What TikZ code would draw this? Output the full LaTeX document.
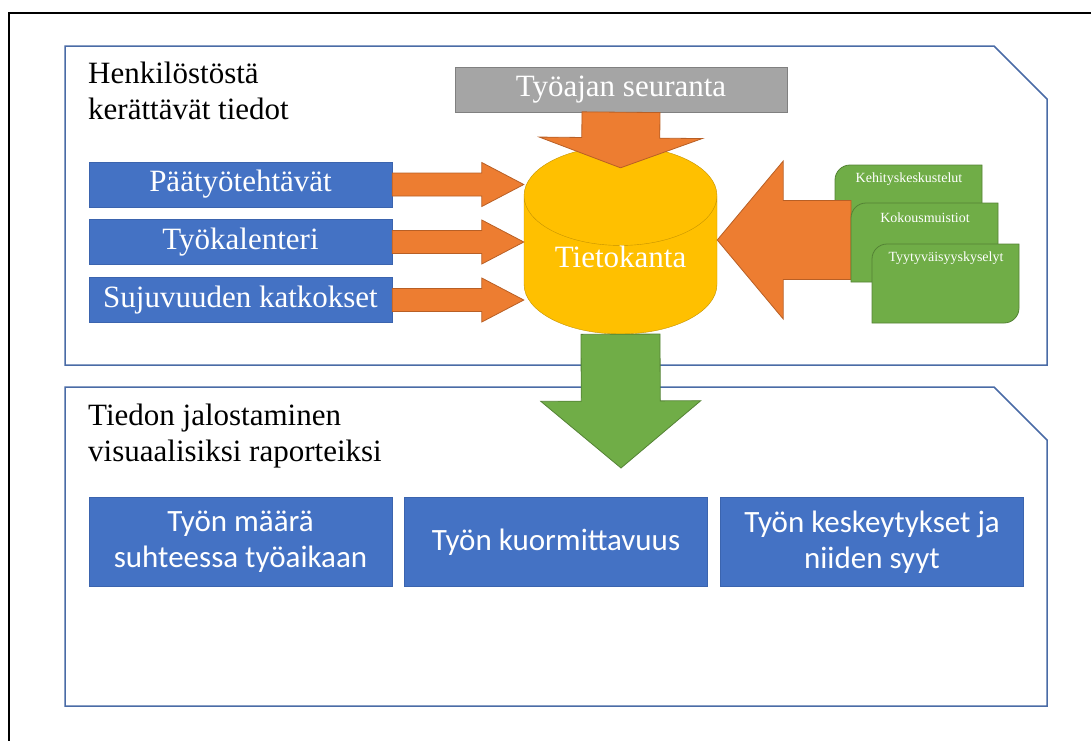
\documentclass[tikz,border=0pt]{standalone}
\usepackage{fontspec}
\setmainfont{Liberation Serif}
\newfontfamily\calibrifont{Carlito}
\usetikzlibrary{shapes.geometric, calc, positioning}

\definecolor{boxblue}{HTML}{4472C4}
\definecolor{boxedge}{HTML}{3B64AE}
\definecolor{panelblue}{HTML}{4A6BA6}
\definecolor{arroworange}{HTML}{ED7D31}
\definecolor{orangeedge}{HTML}{B85F25}
\definecolor{dbyellow}{HTML}{FFC000}
\definecolor{dbedge}{HTML}{C59300}
\definecolor{cardgreen}{HTML}{70AD47}
\definecolor{greenedge}{HTML}{548235}
\definecolor{timegray}{HTML}{A5A5A5}
\definecolor{grayedge}{HTML}{808080}

% block arrow: style, from, to, half shaft, half head, head length
\newcommand{\blockarrow}[6]{%
  \coordinate (ahbase) at ($(#3)!#6pt!(#2)$);
  \draw[#1] ($(#2)!#4pt!90:(#3)$) -- ($(ahbase)!#4pt!90:(#3)$) -- ($(ahbase)!#5pt!90:(#3)$) -- (#3)
    -- ($(ahbase)!#5pt!-90:(#3)$) -- ($(ahbase)!#4pt!-90:(#3)$) -- ($(#2)!#4pt!-90:(#3)$) -- cycle;}

\begin{document}
\begin{tikzpicture}[x=1pt, y=-1pt,
        panel/.style={draw=panelblue, line width=1.5pt},
        title/.style={anchor=north west, align=left, inner sep=0pt, font=\fontsize{31}{36}\selectfont},
        source/.style={rectangle, draw=boxedge, fill=boxblue, text=white, minimum width=303pt, minimum height=45pt, font=\fontsize{31}{36}\selectfont},
        report/.style={rectangle, draw=boxedge, fill=boxblue, text=white, minimum width=303pt, minimum height=89pt, align=center, font=\calibrifont\fontsize{31}{36}\selectfont},
        card/.style={fill=cardgreen, draw=greenedge, line width=0.8pt},
        cardtext/.style={text=white, inner sep=0pt, font=\fontsize{14}{16}\selectfont},
        orangearrow/.style={fill=arroworange, draw=orangeedge, line width=0.8pt},
        greenarrow/.style={fill=cardgreen, draw=greenedge, line width=0.8pt}
    ]
        \useasboundingbox (0,0) rectangle (1091,740);
        \draw[line width=1.5pt] (9,760) -- (9,13) -- (1110,13);

        % Panels
        \draw[panel] (65,46) -- (994,46) -- (1047,99) -- (1047,365) -- (65,365) -- cycle;
        \draw[panel] (65,387) -- (994,387) -- (1047,440) -- (1047,706) -- (65,706) -- cycle;
        \node[title] (collect) at (88,62) {Henkilöstöstä\\kerättävät tiedot};
        \node[title] (refine) at (88,404) {Tiedon jalostaminen\\visuaalisiksi raporteiksi};

        % Sources
        \node[source] (tasks) at (240.5,184.5) {Päätyötehtävät};
        \node[source] (calendar) at (240.5,242) {Työkalenteri};
        \node[source] (breaks) at (240.5,300) {Sujuvuuden katkokset};
        \node[source, minimum width=332pt, fill=timegray, draw=grayedge] (time) at (621,89.5) {Työajan seuranta};

        \node[cylinder, shape border rotate=90, aspect=0.72, draw=dbedge, fill=dbyellow, text=white, anchor=shape center,
            minimum width=193pt, minimum height=188pt, font=\fontsize{31}{36}\selectfont] (db) at (620.5,240)
            {\smash{\raisebox{4pt}{Tietokanta}}};

        % Arrows into the database
        \coordinate (tasksin) at (tasks.east -| db.west);
        \coordinate (calendarin) at (calendar.east -| db.west);
        \coordinate (breaksin) at (breaks.east -| db.west);
        \blockarrow{orangearrow}{tasks.east}{tasksin}{11.5}{22}{42}
        \blockarrow{orangearrow}{calendar.east}{calendarin}{11.5}{22}{42}
        \blockarrow{orangearrow}{breaks.east}{breaksin}{11.5}{22}{42}
        \coordinate (timein) at ([yshift=-22pt]db.north);
        \blockarrow{orangearrow}{time.south}{timein}{39}{81.5}{30}

        % Cards
        \coordinate (c1) at (835,165);
        \draw[card] ([yshift=-15pt]c1) arc[start angle=180, end angle=90, radius=15pt] -- ++(132,0) -- ++(0,64)
            arc[start angle=0, end angle=-90, radius=15pt] -- ++(-132,0) -- cycle;
        \node[cardtext] (talks) at ([xshift=74pt, yshift=-14pt]c1) {Kehityskeskustelut};

        \coordinate (c2) at (851,203);
        \coordinate (dbright) at (db.shape center -| db.east);
        \coordinate (cardfeed) at (c2 |- dbright);
        \blockarrow{orangearrow}{cardfeed}{dbright}{39.5}{79}{66}

        \draw[card] ([yshift=-15pt]c2) arc[start angle=180, end angle=90, radius=15pt] -- ++(132,0) -- ++(0,64)
            arc[start angle=0, end angle=-90, radius=15pt] -- ++(-132,0) -- cycle;
        \node[cardtext] (minutes) at ([xshift=74pt, yshift=-15pt]c2) {Kokousmuistiot};

        \coordinate (c3) at (872,244);
        \draw[card] ([yshift=-15pt]c3) arc[start angle=180, end angle=90, radius=15pt] -- ++(132,0) -- ++(0,64)
            arc[start angle=0, end angle=-90, radius=15pt] -- ++(-132,0) -- cycle;
        \node[cardtext] (survey) at ([xshift=74pt, yshift=-14pt]c3) {Tyytyväisyyskyselyt};

        % Database to reports
        \coordinate (gtip) at (621,468);
        \blockarrow{greenarrow}{db.south}{gtip}{39.5}{80}{67}

        \node[report] (amount) at (240.5,542) {Työn määrä\\suhteessa työaikaan};
        \node[report] (load) at (556,542) {Työn kuormittavuus};
        \node[report] (interrupt) at (872,542) {Työn keskeytykset ja\\niiden syyt};
    \end{tikzpicture}
\end{document}
